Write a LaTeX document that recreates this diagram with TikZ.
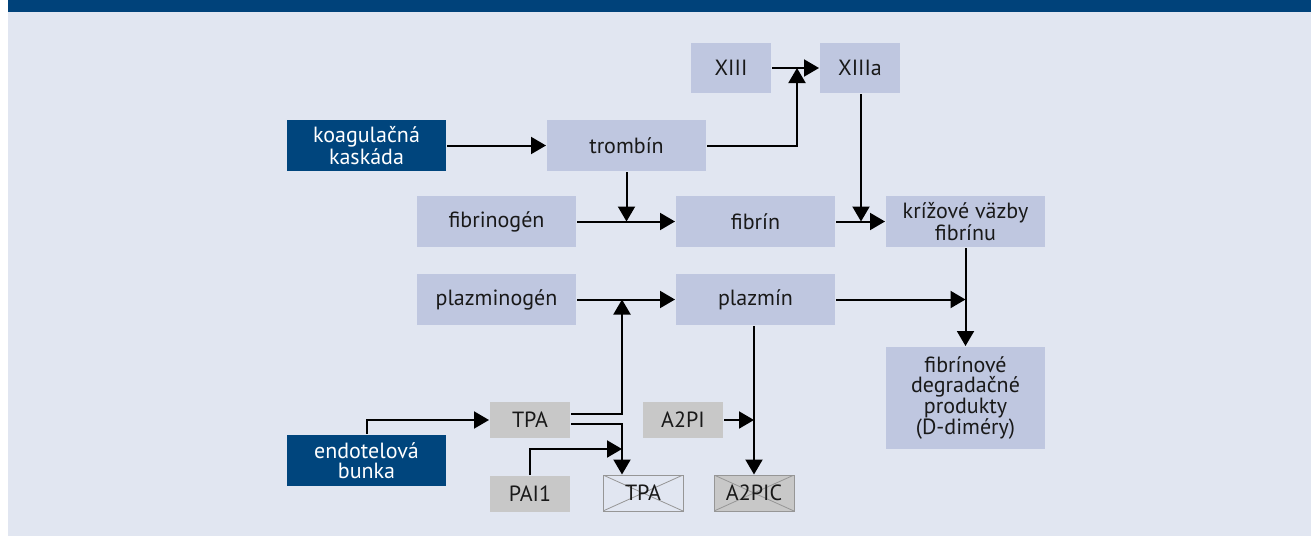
\documentclass[tikz,border=0pt]{standalone}
\usepackage{fontspec}
\setmainfont{PT Sans}
\usepackage{xcolor}
\definecolor{colorBack}{RGB}{225,230,241}
\definecolor{colorBand}{RGB}{0,66,122}
\definecolor{colorDark}{RGB}{0,69,125}
\definecolor{colorLight}{RGB}{191,199,224}
\definecolor{colorGrey}{RGB}{200,200,200}
\definecolor{colorCross}{RGB}{150,150,150}
\usepackage{tikz}
\usetikzlibrary{arrows.meta, positioning}
\tikzset{
  box/.style={fill=colorLight, text=black!90, minimum width=159pt, minimum height=51pt,
    inner sep=0pt, align=center, font=\fontsize{22}{19.5}\selectfont},
  darkbox/.style={box, fill=colorDark, text=white},
  smallbox/.style={box, minimum width=80pt, minimum height=36pt},
  greybox/.style={smallbox, fill=colorGrey},
  crossbox/.style={smallbox, draw=colorCross, line width=1pt, path picture={
    \draw[colorCross, line width=0.8pt] (path picture bounding box.north west) -- (path picture bounding box.south east)
      (path picture bounding box.south west) -- (path picture bounding box.north east);}},
}

\begin{document}
\begin{tikzpicture}[x=1pt, y=-1pt, >={Triangle[length=15pt, width=17pt]}, line width=2pt, node distance=49pt]
\useasboundingbox (0,0) rectangle (1311,536);
\fill[white] (0,0) rectangle (1311,536);
\fill[colorBack] (8,0) rectangle (1311,536);
\fill[colorBand] (8,0) rectangle (1311,12);

\node[darkbox] (koag) at (366.5,145.5) {koagulačná\\kaskáda};
\node[box] (trombin) at (626.5,145.5) {trombín};
\node[box, minimum width=80pt, minimum height=50pt] (xiii) at (731,68) {XIII};
\node[box, minimum width=80pt, minimum height=50pt] (xiiia) at (860,68) {XIIIa};
\node[box] (fibrinogen) at (496.5,221.5) {fibrinogén};
\node[box] (fibrin) at (755.5,221.5) {fibrín};
\node[box] (kriz) at (965.5,221.5) {krížové väzby\\fibrínu};
\node[box, minimum height=102pt] (fdp) at (965.5,398) {fibrínové\\degradačné\\produkty\\(D-diméry)};
\node[box] (plazminogen) at (496.5,299.5) {plazminogén};
\node[box] (plazmin) at (755.5,299.5) {plazmín};
\node[greybox] (tpa) at (530,420) {TPA};
\node[greybox] (a2pi) at (683,420) {A2PI};
\node[darkbox] (endo) at (366.5,460.5) {endotelová\\bunka};
\node[greybox] (pai) at (530,494) {PAI1};
\node[crossbox, fill=colorBack] (tpax) at (643,493) {TPA};
\node[crossbox, fill=colorGrey] (a2pic) at (754,493) {A2PIC};

\coordinate (jxiii) at (797,68);
\coordinate (jfib) at (626.5,221.5);
\coordinate (jkriz) at (861,221.5);
\coordinate (jplaz) at (622,299.5);
\coordinate (jfdp) at (965.5,299.5);
\coordinate (jpai) at (622,449);
\coordinate (ja2pi) at (754,420);

\draw[->] (koag) -- (trombin);
\draw[->] (xiii) -- (xiiia);
\draw[->] (trombin) -| (jxiii);
\draw[->] (trombin) -- (jfib);
\draw[->] (fibrinogen) -- (fibrin);
\draw[->] (xiiia.south -| jkriz) -- (jkriz);
\draw[->] (fibrin) -- (kriz);
\draw[->] (kriz) -- (fdp);
\draw[->] (plazminogen) -- (plazmin);
\draw[->] (plazmin) -- (jfdp);
\draw[->] ([yshift=6pt]tpa.east) -| (jplaz);
\draw[->] ([yshift=-4pt]tpa.east) -| (tpax.north -| jplaz);
\draw[->] (endo) |- (tpa);
\draw[->] (pai) |- (jpai);
\draw[->] (a2pi) -- (ja2pi);
\draw[->] (plazmin.south -| a2pic) -- (a2pic);
\end{tikzpicture}
\end{document}
